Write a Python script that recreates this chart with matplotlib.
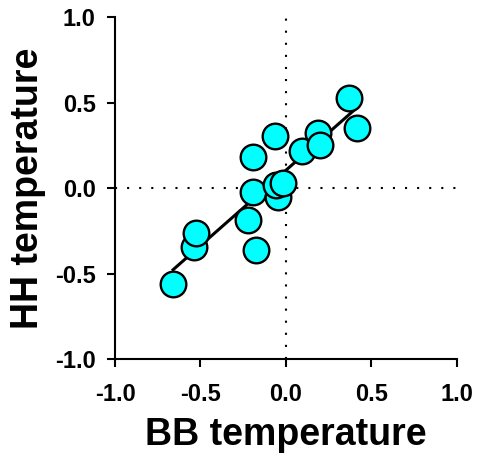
import numpy as np
import matplotlib.pyplot as plt

# values
bb_temp = [-0.66, -0.535, -0.525, -0.224, -0.176, -0.193, -0.193, -0.045,
           -0.055, -0.016, -0.064, 0.095, 0.187, 0.20, 0.37, 0.415]
hh_temp = [-0.56, -0.345, -0.265, -0.186, -0.361, -0.025, 0.183, -0.049,
           0.02, 0.03, 0.306, 0.215, 0.32, 0.25, 0.53, 0.355]
ticks = [-1.0, -0.5, 0.0, 0.5, 1.0]
tick_labels = ["-1.0", "-0.5", "0.0", "0.5", "1.0"]

plt.rcParams['font.family'] = ['Liberation Sans', 'DejaVu Sans']
plt.rcParams['font.weight'] = 'bold'

fig = plt.figure(figsize=(4.8, 4.69), dpi=100)
ax = fig.add_axes([0.2396, 0.2345, 0.7118, 0.7286])

# zero reference lines
ax.axvline(0, color='black', linestyle=(0, (1, 4.8)), linewidth=1.5, zorder=1)
ax.axhline(0, color='black', linestyle=(0, (1, 4.8)), linewidth=1.5, zorder=1)

# least squares line across the data range
x = np.array(bb_temp)
y = np.array(hh_temp)
slope, intercept = np.polyfit(x, y, 1)
xs = np.array([x.min(), x.max()])
ax.plot(xs, slope * xs + intercept, color='black', linewidth=2.2, zorder=2)

ax.scatter(x, y, s=340, color='#00FFFF', edgecolor='black', linewidth=1.7, zorder=3)

ax.set_xlim(-1, 1)
ax.set_ylim(-1, 1)
ax.set_xticks(ticks)
ax.set_yticks(ticks)
ax.set_xticklabels(tick_labels)
ax.set_yticklabels(tick_labels)
ax.tick_params(axis='both', direction='out', length=6, width=1.5, labelsize=17)
ax.tick_params(axis='x', pad=11)
ax.tick_params(axis='y', pad=8)

for side in ['top', 'right']:
    ax.spines[side].set_visible(False)
for side in ['left', 'bottom']:
    ax.spines[side].set_linewidth(1.5)

ax.set_xlabel("BB temperature", fontsize=27, fontweight='bold', labelpad=8)
ax.set_ylabel("HH temperature", fontsize=27, fontweight='bold', labelpad=6)

fig.savefig("out.png", dpi=100)
